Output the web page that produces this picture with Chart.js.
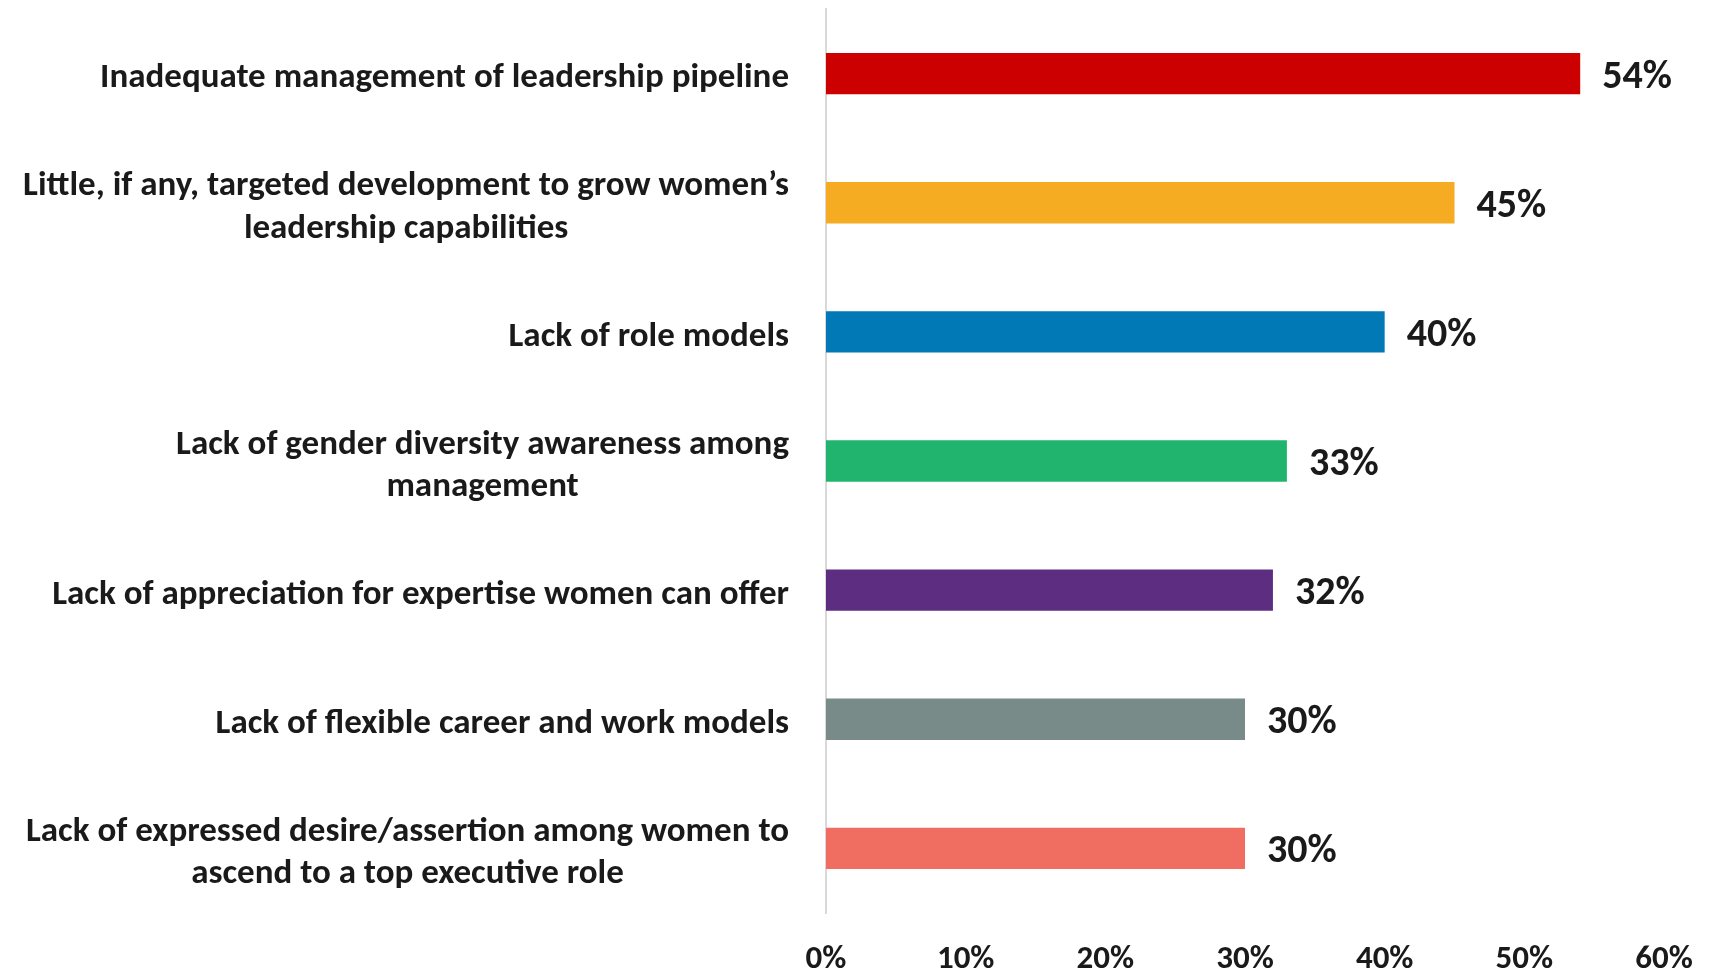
<!DOCTYPE html>
<html lang="en">
  <head>
    <meta charset="UTF-8" />
    <title>Barriers to women in leadership</title>
    <script src="https://cdn.jsdelivr.net/npm/chart.js"></script>
    <style>
      html,
      body {
        margin: 0;
        padding: 0;
        background: #ffffff;
      }
      canvas {
        display: block;
      }
    </style>
  </head>
  <body>
    <canvas id="barriersChart" width="1711" height="974"></canvas>
    <script>
      const categories = [
        ["Inadequate management of leadership pipeline"],
        ["Little, if any, targeted development to grow women’s", "leadership capabilities"],
        ["Lack of role models"],
        ["Lack of gender diversity awareness among", "management"],
        ["Lack of appreciation for expertise women can offer"],
        ["Lack of flexible career and work models"],
        ["Lack of expressed desire/assertion among women to", "ascend to a top executive role"],
      ];
      const values = [54, 45, 40, 33, 32, 30, 30];
      const barColors = ["#cc0000", "#f5ab22", "#0179b7", "#21b46e", "#5c2d80", "#798b88", "#f06d61"];
      const axisMin = 0;
      const axisMax = 60;
      const axisStep = 10;

      const FONT = "Carlito, Calibri, Lato, sans-serif";
      const TEXT = "#1a1a1a";

      // category names, right-aligned block with centred lines
      const categoryLabels = {
        id: "categoryLabels",
        afterDraw(chart) {
          const { ctx } = chart;
          const y = chart.scales.y;
          ctx.save();
          ctx.font = "bold 35px " + FONT;
          ctx.fillStyle = TEXT;
          ctx.textAlign = "center";
          ctx.textBaseline = "middle";
          const right = y.right - 37;
          categories.forEach((lines, i) => {
            const cy = y.getPixelForValue(i) + 5;
            const w = Math.max(...lines.map((l) => ctx.measureText(l).width));
            const cx = right - w / 2;
            lines.forEach((line, j) => {
              ctx.fillText(line, cx, cy + (j - (lines.length - 1) / 2) * 42.5);
            });
          });
          ctx.restore();
        },
      };

      // percentage at the end of each bar
      const valueLabels = {
        id: "valueLabels",
        afterDatasetsDraw(chart) {
          const { ctx } = chart;
          const meta = chart.getDatasetMeta(0);
          ctx.save();
          ctx.font = "bold 40px " + FONT;
          ctx.fillStyle = TEXT;
          ctx.textAlign = "left";
          ctx.textBaseline = "middle";
          meta.data.forEach((bar, i) => {
            ctx.fillText(values[i] + "%", bar.x + 22, bar.y + 4);
          });
          ctx.restore();
        },
      };

      const ctx = document.getElementById("barriersChart").getContext("2d");
      new Chart(ctx, {
        type: "bar",
        data: {
          labels: categories,
          datasets: [
            {
              data: values,
              backgroundColor: barColors,
              borderWidth: 0,
              barPercentage: 0.32,
              categoryPercentage: 1,
            },
          ],
        },
        options: {
          indexAxis: "y",
          responsive: false,
          animation: false,
          devicePixelRatio: 1,
          layout: {
            padding: { top: 9, right: 47, bottom: 0, left: 0 },
          },
          plugins: {
            legend: { display: false },
            tooltip: { enabled: false },
          },
          scales: {
            x: {
              min: axisMin,
              max: axisMax,
              grid: { display: false, drawTicks: false },
              border: { display: false },
              ticks: {
                stepSize: axisStep,
                padding: 27,
                color: TEXT,
                font: { family: FONT, size: 33, weight: "bold" },
                callback: (v) => v + "%",
              },
              afterFit: (scale) => {
                scale.height = 61;
                scale.paddingLeft = 0;
                scale.paddingRight = 0;
              },
            },
            y: {
              grid: { display: false, drawTicks: false },
              border: { display: true, color: "#d9d9d9", width: 2 },
              ticks: { display: false },
              afterFit: (scale) => {
                scale.width = 826;
                scale.paddingTop = 0;
                scale.paddingBottom = 0;
              },
            },
          },
        },
        plugins: [categoryLabels, valueLabels],
      });
    </script>
  </body>
</html>
